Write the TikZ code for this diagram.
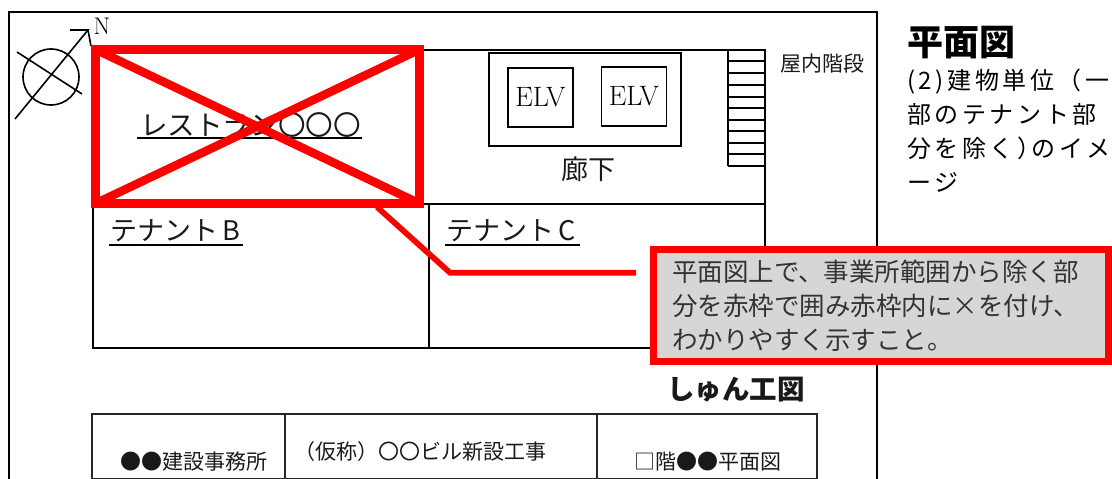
\documentclass[tikz,border=0pt]{standalone}
\usepackage{fontspec}
\usepackage{tikz}
\usetikzlibrary{positioning}
\newfontfamily\jpfont{Noto Sans CJK JP}
\newfontfamily\jpgap[LetterSpace=15]{Noto Sans CJK JP}

\begin{document}
\begin{tikzpicture}[
    x=1pt, y=-1pt,
    wall/.style ={draw=black, line width=2pt},
    thin wall/.style ={draw=black, line width=1.6pt},
    block/.style ={rectangle, draw=black, line width=1.6pt, outer sep=0pt, inner sep=0pt},
    elv/.style ={block, font=\fontsize{28}{28}\selectfont, minimum width=65pt, minimum height=59pt},
    cell/.style ={rectangle, draw=black!85, line width=1.6pt, outer sep=0pt, minimum height=65pt},
    jp/.style ={inner sep=0pt, outer sep=0pt, text=black!90, font=\jpfont\fontsize{#1}{#1}\selectfont},
    redline/.style ={draw=red, line width=#1},
]
\useasboundingbox (0,0) rectangle (1112,479);

% Outer frame
\path [wall] (9,479) -- (9,12) -- (877,12) -- (877,479);

% Building
\path [wall] (93,50) rectangle (765,348);
\path [wall] (93,204) -- (765,204);
\path [wall] (429,204) -- (429,348);

% North mark
\node [circle, draw=black, line width=1.6pt, minimum size=56pt, inner sep=0pt] (north) at (51,77) {};
\path [thin wall] (15,119) -- (88,30) -- (70,30);
\path [thin wall] (88,30) -- (91,46);
\path [thin wall] (17,52) -- (82,94);
\node [inner sep=0pt, font=\fontsize{24}{24}\selectfont] (northlabel) at (102,26.5) {N};

% Lobby and lifts
\node [block, minimum width=192pt, minimum height=93pt] (lobby) at (585,99.5) {};
\node [elv] (elvleft) at (540.5,97.5) {ELV};
\node [elv] (elvright) at (634,96.5) {ELV};
\node [jp=27] (corridor) at (588,169) {廊下};

% Stairs
\path [thin wall] (728,50) -- (728,166);
\foreach \stepy in {61,72.7,84.7,96.7,108,120,131,142.7,154,166}
    \path [thin wall] (728,\stepy) -- (765,\stepy);
\node [jp=21] (stairs) at (822,64) {屋内階段};

% Room names
\node [jp=27.6, anchor=west] (restaurant) at (140,125) {レストラン〇〇〇};
\node [jp=27, anchor=west] (tenantb) at (110,231) {テナント\,B};
\node [jp=27, anchor=west] (tenantc) at (446,231) {テナント\,C};
\path [thin wall] (137,138) -- (362,138);
\path [thin wall] (109,245) -- (243,245);
\path [thin wall] (445,245) -- (580,245);

% Title block
\node [jp=27, font=\jpfont\bfseries\fontsize{27.5}{27.5}\selectfont] (drawingtitle) at (736,390) {しゅん工図};
\node [cell, minimum width=193pt] (office) at (188.5,446.5) {};
\node [cell, minimum width=312pt, right=0pt of office] (project) {};
\node [cell, minimum width=220pt, right=0pt of project] (sheet) {};
\node [jp=21] (officename) at (194,462) {●●建設事務所};
\node [jp=21] (projectname) at (420,452) {（仮称）〇〇ビル新設工事};
\node [jp=21] (sheetname) at (708,462) {□階●●平面図};

% Heading on the right
\node [inner sep=0pt, anchor=west, font=\jpfont\bfseries\fontsize{36}{36}\selectfont] (heading) at (907,43) {平面図};
\node [inner sep=0pt, anchor=north west, align=left, font=\jpgap\fontsize{24}{34}\selectfont] (subheading) at (907,68.5)
    {(2)建物単位（一\\部のテナント部\\分を除く）\kern-10pt のイメ\\ージ};

% Red marking
\node [rectangle, draw=red, line width=9pt, outer sep=0pt, minimum width=324pt, minimum height=154pt] (excluded) at (257.5,126.5) {};
\path [redline=8.5pt] (excluded.north west) -- (excluded.south east);
\path [redline=8.5pt] (excluded.south west) -- (excluded.north east);

% Note
\node [rectangle, draw=red, fill=black!16, line width=7pt, outer sep=0pt, inner sep=0pt, minimum width=455pt, minimum height=111.5pt,
    text width=417pt, align=left, text=black!80, font=\jpfont\fontsize{25.5}{34}\selectfont] (note) at (880.5,305.7)
    {平面図上で、事業所範囲から除く部\\分を赤枠で囲み赤枠内に×を付け、\\わかりやすく示すこと。};

% Leader
\coordinate (leadstart) at (377,207);
\coordinate (leadbend) at (450,272.7);
\path [redline=5.7pt] (leadstart) -- (leadbend) -- (leadbend -| note.west) [shorten >=17pt];

\end{tikzpicture}
\end{document}
